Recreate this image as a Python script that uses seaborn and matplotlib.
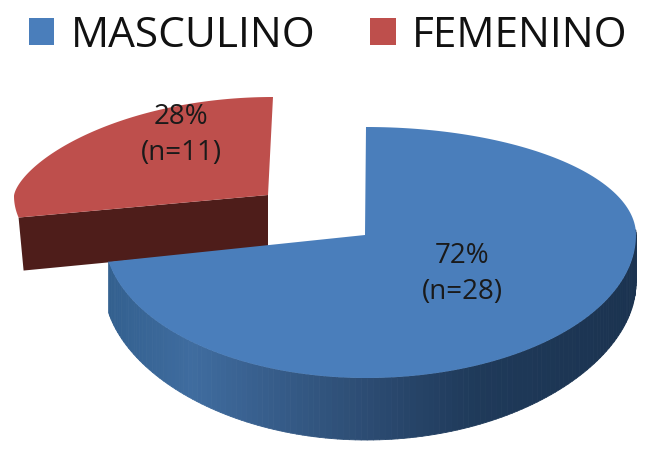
import numpy as np
import matplotlib
matplotlib.use("Agg")
import matplotlib.pyplot as plt
from matplotlib.patches import Patch, Polygon
from matplotlib.collections import PolyCollection
from matplotlib.colors import LinearSegmentedColormap
import seaborn as sns

categories = ["MASCULINO", "FEMENINO"]
shares = [72, 28]
counts = [28, 11]
top_colors = ["#4a7ebb", "#be4f4c"]
wall_stops = [(0, "#33608f"), (0.16, "#3f6c9f"), (0.45, "#2f5078"), (0.7, "#1f3a5a"), (1, "#1b3350")]
cut_color = "#4e1d1a"

sns.set_theme(style="white")
plt.rcParams["font.family"] = ["Open Sans", "DejaVu Sans"]

fig = plt.figure(figsize=(6.5, 4.55), dpi=100)
ax = fig.add_axes([0, 0, 1, 1])
ax.set_xlim(0, 650)
ax.set_ylim(455, 0)
ax.axis("off")

# projection of each slice: centre, x radii left/right, y radii above/below, curve power, apex
geom = [dict(c=(366, 235), rx=(262, 270), ry=(108, 143), p=1.0, apex=(365, 235), z=2),
        dict(c=(273, 196), rx=(259, 259), ry=(99, 115), p=1.3, apex=(268, 195), z=1)]

fracs = np.cumsum([0] + shares) / sum(shares)
cmap = LinearSegmentedColormap.from_list("wall", wall_stops)
for i, g in enumerate(geom):
    a = np.linspace(fracs[i], fracs[i + 1], 200) * 2 * np.pi
    s, co = np.sin(a), np.cos(a)
    x = g["c"][0] + np.where(s < 0, g["rx"][0], g["rx"][1]) * s
    y = g["c"][1] - np.where(co > 0, g["ry"][0] * np.abs(co) ** g["p"], g["ry"][1] * co)
    if i == 1:
        ax.add_patch(Polygon([g["apex"], (x[0], y[0]), (x[0] + 5, y[0] + 53),
                              (g["apex"][0], g["apex"][1] + 52)],
                             fc=cut_color, ec="none", zorder=g["z"]))
    else:
        vis = co < 0.05
        depth = 62 - 14 * np.clip((x - 367) / 270, 0, 1) ** 2 - 12 * np.clip((367 - x) / 270, 0, 1) ** 2
        q = [[(x[k], y[k]), (x[k + 1], y[k + 1]), (x[k + 1], y[k + 1] + depth[k + 1]), (x[k], y[k] + depth[k])]
             for k in range(len(a) - 1) if vis[k]]
        t = (x[:-1][vis[:-1]] - x.min()) / (x.max() - x.min())
        ax.add_collection(PolyCollection(q, facecolors=cmap(t), edgecolors="face",
                                         linewidths=0.6, zorder=g["z"]))
    ax.add_patch(Polygon(np.r_[[g["apex"]], np.c_[x, y]], fc=top_colors[i], ec="none",
                         zorder=g["z"] + 0.5))

label_pos = [(462, 274), (181, 135)]
for v, n, (lx, ly) in zip(shares, counts, label_pos):
    ax.text(lx, ly, f"{v}%\n(n={n})", ha="center", va="center", fontsize=20,
            color="#1a1a1a", linespacing=1.42, zorder=5)

handles = [Patch(fc=c, ec="none", label=l) for c, l in zip(top_colors, categories)]
ax.legend(handles=handles, ncol=2, frameon=False, fontsize=30.5, loc="upper left",
          bbox_to_anchor=(0.018, 1.005), handlelength=0.61, handleheight=0.61,
          handletextpad=0.38, columnspacing=1.3, labelcolor="#111111", borderaxespad=0)

fig.savefig("out.png", dpi=100, facecolor="white")
